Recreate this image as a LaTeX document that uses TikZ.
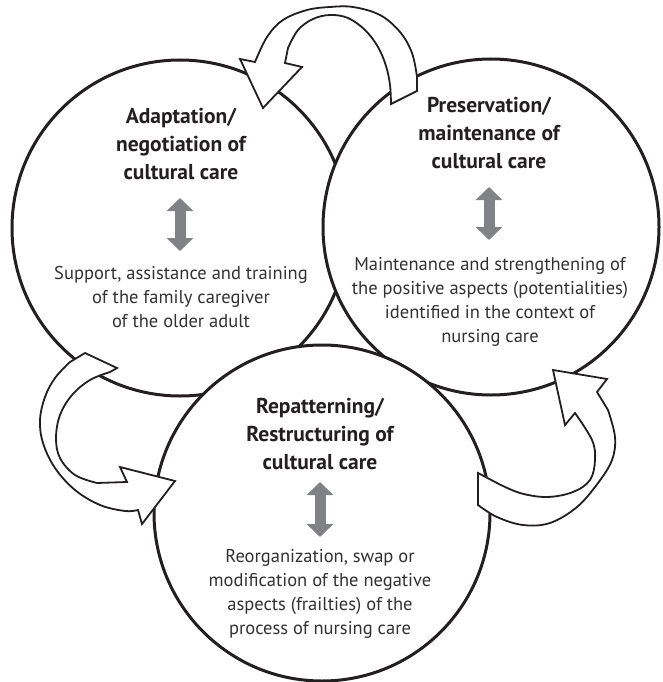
\documentclass[tikz,border=0pt]{standalone}
\usepackage{fontspec}
\setmainfont{PT Sans}
\usepackage{tikz}
\usetikzlibrary{arrows.meta}
\usetikzlibrary{positioning}

\definecolor{titleink}{RGB}{35,31,32}
\definecolor{bodyink}{RGB}{50,50,50}
\definecolor{arrowgray}{RGB}{128,130,133}

\begin{document}
\begin{tikzpicture}[x=1pt,y=-1pt,
  care circle/.style={circle,draw=titleink,fill=white,line width=3pt,minimum size=336pt,inner sep=0pt},
  title text/.style={align=center,text=titleink,font=\fontsize{21.5}{28}\selectfont\bfseries},
  body text/.style={align=center,text=bodyink,font=\fontsize{18.5}{23.8}\selectfont},
  gray arrow/.style={draw=arrowgray,line width=11pt,
    {Triangle[width=26pt,length=13pt]}-{Triangle[width=26pt,length=13pt]}},
  flow arrow/.style={draw=titleink,fill=white,line width=1.8pt,line join=miter}]

  \useasboundingbox (0,0) rectangle (662,682);

  % the three circles, each one over the one before
  \node[care circle] (adapt) at (180,228) {};
  \node[care circle] (preserve) at (491,227) {};
  \node[care circle] (repattern) at (322,513) {};

  % curved arrows between the circles
  \draw[flow arrow] (417,91)
    -- plot[smooth,tension=0.6] coordinates {(417,77) (412,53) (400,32) (380,15) (353,7) (330,7) (307,10) (283,20) (267,37) (255,62)}
    -- (240,59) -- (263,108) -- (302,67) -- (285,63)
    -- plot[smooth,tension=0.6] coordinates {(288,48) (298,30) (313,19) (330,15) (348,18) (365,30) (378,47) (386,66) (390,85) (391,104)}
    -- cycle;
  \draw[flow arrow] (85,353)
    -- plot[smooth,tension=0.6] coordinates {(70,362) (55,378) (45,397) (40,420) (43,443) (55,468) (75,490) (100,505) (125,511) (138,510)}
    -- (142,524) -- (175,481) -- (120,467) -- (127,482)
    -- plot[smooth,tension=0.6] coordinates {(97,483) (75,475) (60,458) (56,438) (60,415) (72,395) (90,380) (110,372)}
    -- (117,368) -- cycle;
  \draw[flow arrow] (478,473)
    -- plot[smooth,tension=0.6] coordinates {(497,483) (520,493) (547,497) (573,492) (590,480) (595,460) (592,440) (575,413)}
    -- (565,425) -- (553,370) -- (607,379) -- (597,392)
    -- plot[smooth,tension=0.6] coordinates {(608,410) (615,437) (612,460) (598,483) (577,507) (550,523) (523,525) (497,517) (478,505)}
    -- cycle;

  % texts
  \node[title text] (adapt title) at (181,144) {Adaptation/\\negotiation of\\cultural care};
  \node[body text] (adapt body) at (181,297) {Support, assistance and training\\of the family caregiver\\of the older adult};
  \node[title text] (preserve title) at (489,133) {Preservation/\\maintenance of\\cultural care};
  \node[body text] (preserve body) at (490,302) {Maintenance and strengthening of\\the positive aspects (potentialities)\\identified in the context of\\nursing care};
  \node[title text] (repattern title) at (320,434) {Repatterning/\\Restructuring of\\cultural care};
  \node[body text] (repattern body) at (320,594) {Reorganization, swap or\\modification of the negative\\aspects (frailties) of the\\process of nursing care};

  \coordinate (adapt up) at (180,198);
  \coordinate (adapt down) at (180,251);
  \coordinate (preserve up) at (489,187);
  \coordinate (preserve down) at (489,240);
  \coordinate (repattern up) at (320,482);
  \coordinate (repattern down) at (320,537);
  \draw[gray arrow] (adapt up) -- (adapt down);
  \draw[gray arrow] (preserve up) -- (preserve down);
  \draw[gray arrow] (repattern up) -- (repattern down);
\end{tikzpicture}
\end{document}
